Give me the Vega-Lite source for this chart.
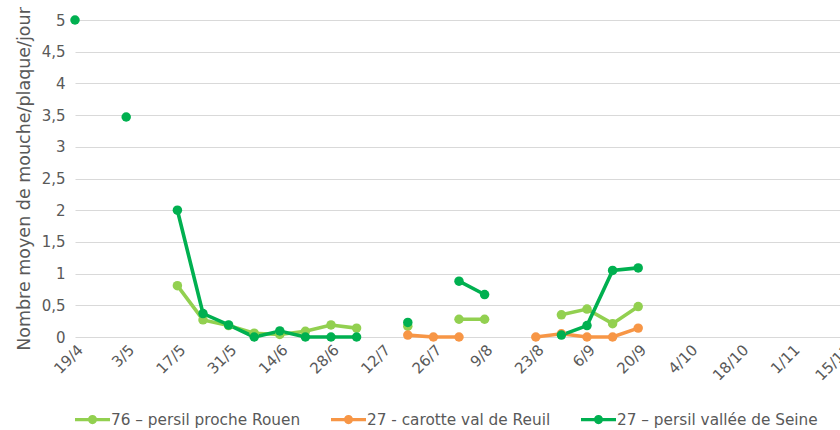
{
  "$schema": "https://vega.github.io/schema/vega-lite/v6.json",
  "width": 768,
  "height": 317,
  "autosize": {"type": "none"},
  "padding": {"left": 75, "top": 20, "right": 0, "bottom": 93},
  "background": "white",
  "config": {
    "view": {"stroke": null},
    "font": "DejaVu Sans",
    "axis": {"labelColor": "#595959", "titleColor": "#595959", "labelFont": "DejaVu Sans", "titleFont": "DejaVu Sans"}
  },
  "data": {
    "values": [
      {"date": "2021-05-17", "serie": "76 – persil proche Rouen", "val": 0.81},
      {"date": "2021-05-24", "serie": "76 – persil proche Rouen", "val": 0.27},
      {"date": "2021-05-31", "serie": "76 – persil proche Rouen", "val": 0.18},
      {"date": "2021-06-07", "serie": "76 – persil proche Rouen", "val": 0.06},
      {"date": "2021-06-14", "serie": "76 – persil proche Rouen", "val": 0.04},
      {"date": "2021-06-21", "serie": "76 – persil proche Rouen", "val": 0.09},
      {"date": "2021-06-28", "serie": "76 – persil proche Rouen", "val": 0.19},
      {"date": "2021-07-05", "serie": "76 – persil proche Rouen", "val": 0.14},
      {"date": "2021-07-12", "serie": "76 – persil proche Rouen", "val": null},
      {"date": "2021-07-19", "serie": "76 – persil proche Rouen", "val": 0.17},
      {"date": "2021-07-26", "serie": "76 – persil proche Rouen", "val": null},
      {"date": "2021-08-02", "serie": "76 – persil proche Rouen", "val": 0.28},
      {"date": "2021-08-09", "serie": "76 – persil proche Rouen", "val": 0.28},
      {"date": "2021-08-16", "serie": "76 – persil proche Rouen", "val": null},
      {"date": "2021-08-30", "serie": "76 – persil proche Rouen", "val": 0.35},
      {"date": "2021-09-06", "serie": "76 – persil proche Rouen", "val": 0.44},
      {"date": "2021-09-13", "serie": "76 – persil proche Rouen", "val": 0.21},
      {"date": "2021-09-20", "serie": "76 – persil proche Rouen", "val": 0.48},
      {"date": "2021-07-19", "serie": "27 - carotte val de Reuil", "val": 0.03},
      {"date": "2021-07-26", "serie": "27 - carotte val de Reuil", "val": 0},
      {"date": "2021-08-02", "serie": "27 - carotte val de Reuil", "val": 0},
      {"date": "2021-08-09", "serie": "27 - carotte val de Reuil", "val": null},
      {"date": "2021-08-23", "serie": "27 - carotte val de Reuil", "val": 0},
      {"date": "2021-08-30", "serie": "27 - carotte val de Reuil", "val": 0.05},
      {"date": "2021-09-06", "serie": "27 - carotte val de Reuil", "val": 0},
      {"date": "2021-09-13", "serie": "27 - carotte val de Reuil", "val": 0},
      {"date": "2021-09-20", "serie": "27 - carotte val de Reuil", "val": 0.14},
      {"date": "2021-04-19", "serie": "27 – persil vallée de Seine", "val": 5},
      {"date": "2021-04-26", "serie": "27 – persil vallée de Seine", "val": null},
      {"date": "2021-05-03", "serie": "27 – persil vallée de Seine", "val": 3.47},
      {"date": "2021-05-10", "serie": "27 – persil vallée de Seine", "val": null},
      {"date": "2021-05-17", "serie": "27 – persil vallée de Seine", "val": 2.0},
      {"date": "2021-05-24", "serie": "27 – persil vallée de Seine", "val": 0.37},
      {"date": "2021-05-31", "serie": "27 – persil vallée de Seine", "val": 0.19},
      {"date": "2021-06-07", "serie": "27 – persil vallée de Seine", "val": 0},
      {"date": "2021-06-14", "serie": "27 – persil vallée de Seine", "val": 0.095},
      {"date": "2021-06-21", "serie": "27 – persil vallée de Seine", "val": 0},
      {"date": "2021-06-28", "serie": "27 – persil vallée de Seine", "val": 0},
      {"date": "2021-07-05", "serie": "27 – persil vallée de Seine", "val": 0},
      {"date": "2021-07-12", "serie": "27 – persil vallée de Seine", "val": null},
      {"date": "2021-07-19", "serie": "27 – persil vallée de Seine", "val": 0.23},
      {"date": "2021-07-26", "serie": "27 – persil vallée de Seine", "val": null},
      {"date": "2021-08-02", "serie": "27 – persil vallée de Seine", "val": 0.88},
      {"date": "2021-08-09", "serie": "27 – persil vallée de Seine", "val": 0.67},
      {"date": "2021-08-16", "serie": "27 – persil vallée de Seine", "val": null},
      {"date": "2021-08-30", "serie": "27 – persil vallée de Seine", "val": 0.03},
      {"date": "2021-09-06", "serie": "27 – persil vallée de Seine", "val": 0.18},
      {"date": "2021-09-13", "serie": "27 – persil vallée de Seine", "val": 1.05},
      {"date": "2021-09-20", "serie": "27 – persil vallée de Seine", "val": 1.09}
    ]
  },
  "encoding": {
    "x": {
      "field": "date",
      "type": "temporal",
      "scale": {
        "type": "utc",
        "domain": [
          {"year": 2021, "month": 4, "date": 19, "utc": true},
          {"year": 2021, "month": 11, "date": 15, "utc": true}
        ]
      },
      "axis": {
        "title": null,
        "labelExpr": "utcFormat(datum.value, '%-d/%-m')",
        "values": [
          {"year": 2021, "month": 4, "date": 19, "utc": true},
          {"year": 2021, "month": 5, "date": 3, "utc": true},
          {"year": 2021, "month": 5, "date": 17, "utc": true},
          {"year": 2021, "month": 5, "date": 31, "utc": true},
          {"year": 2021, "month": 6, "date": 14, "utc": true},
          {"year": 2021, "month": 6, "date": 28, "utc": true},
          {"year": 2021, "month": 7, "date": 12, "utc": true},
          {"year": 2021, "month": 7, "date": 26, "utc": true},
          {"year": 2021, "month": 8, "date": 9, "utc": true},
          {"year": 2021, "month": 8, "date": 23, "utc": true},
          {"year": 2021, "month": 9, "date": 6, "utc": true},
          {"year": 2021, "month": 9, "date": 20, "utc": true},
          {"year": 2021, "month": 10, "date": 4, "utc": true},
          {"year": 2021, "month": 10, "date": 18, "utc": true},
          {"year": 2021, "month": 11, "date": 1, "utc": true},
          {"year": 2021, "month": 11, "date": 15, "utc": true}
        ],
        "labelAngle": -45,
        "labelAlign": "right",
        "labelBaseline": "top",
        "labelFontSize": 15,
        "labelPadding": 5,
        "labelOverlap": false,
        "labelBound": false,
        "labelFlush": false,
        "domain": false,
        "ticks": false,
        "grid": false
      }
    },
    "y": {
      "field": "val",
      "type": "quantitative",
      "scale": {"domain": [0, 5], "nice": false, "zero": true},
      "axis": {
        "title": "Nombre moyen de mouche/plaque/jour",
        "titleFontSize": 17.5,
        "titleFontWeight": "normal",
        "titlePadding": 8,
        "values": [0, 0.5, 1, 1.5, 2, 2.5, 3, 3.5, 4, 4.5, 5],
        "format": "~g",
        "labelExpr": "replace(datum.label, '.', ',')",
        "labelFontSize": 15,
        "labelPadding": 10,
        "domain": false,
        "ticks": false,
        "grid": true,
        "gridColor": "#d9d9d9",
        "gridWidth": 1
      }
    },
    "color": {
      "field": "serie",
      "type": "nominal",
      "sort": ["76 – persil proche Rouen", "27 - carotte val de Reuil", "27 – persil vallée de Seine"],
      "scale": {
        "domain": ["76 – persil proche Rouen", "27 - carotte val de Reuil", "27 – persil vallée de Seine"],
        "range": ["#92D050", "#F79646", "#00B050"]
      },
      "legend": {
        "orient": "none",
        "legendX": 0,
        "legendY": 382,
        "direction": "horizontal",
        "title": null,
        "symbolType": "M-1,-0.09H1V0.09H-1Z M-0.26,0A0.26,0.26 0 1,1 0.26,0A0.26,0.26 0 1,1 -0.26,0Z",
        "symbolSize": 1225,
        "symbolStrokeWidth": 0,
        "symbolOpacity": 1,
        "labelFontSize": 15.3,
        "labelColor": "#595959",
        "labelFont": "DejaVu Sans",
        "labelLimit": 400,
        "labelOffset": 1,
        "columnPadding": 30,
        "encode": {"symbols": {"update": {"fill": {"scale": "color", "field": "value"}, "opacity": {"value": 1}}}}
      }
    }
  },
  "layer": [
    {
      "mark": {"type": "line", "strokeWidth": 3.6, "invalid": "break-paths-show-domains"}
    },
    {
      "mark": {"type": "point", "filled": true, "size": 90, "opacity": 1}
    }
  ]
}
